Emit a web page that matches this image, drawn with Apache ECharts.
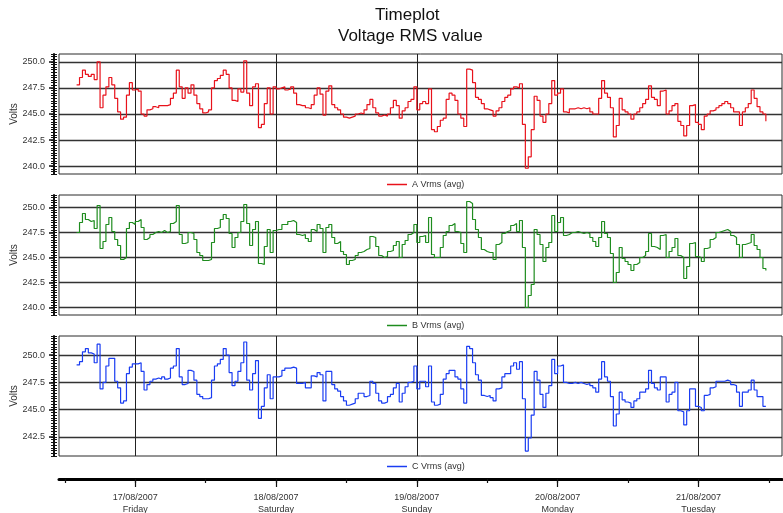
<!DOCTYPE html>
<html>
<head>
<meta charset="utf-8">
<title>Timeplot - Voltage RMS value</title>
<script src="https://cdn.jsdelivr.net/npm/echarts@6.0.0/dist/echarts.min.js"></script>
<style>
	html, body { margin: 0; padding: 0; background: #fff; }
	#timeplot { width: 783px; height: 513px; }
</style>
</head>
<body>
<div id="timeplot"></div>
<script>
// half-hourly averages, the first one taken on 16/08/2007 at 14:00
var startHour = 14;   // hours after 16/08/2007 00:00
var stepHours = 0.5;

var voltsA = [
	247.8, 248.5, 249.2, 248.8, 248.6, 248.8, 248.3, 250.0, 245.6, 246.8,
	247.6, 248.5, 247.8, 246.5, 245.2, 244.5, 244.7, 246.8, 248.0, 247.3,
	247.4, 247.2, 245.0, 244.8, 245.4, 245.5, 245.7, 245.6, 245.8, 245.8,
	245.8, 245.9, 246.5, 247.0, 249.2, 247.6, 246.5, 247.5, 247.0, 247.8,
	246.8, 246.0, 245.5, 245.1, 245.2, 245.4, 247.5, 248.2, 248.4, 248.7,
	249.2, 248.8, 247.5, 246.3, 246.2, 247.4, 247.1, 250.1, 247.0, 245.8,
	247.6, 247.9, 243.7, 244.0, 246.0, 247.5, 245.0, 247.6, 247.4, 247.5,
	247.6, 247.3, 247.4, 247.6, 247.0, 245.9, 245.8, 245.8, 245.6, 245.5,
	245.9, 246.8, 247.5, 246.9, 244.9, 247.2, 247.7, 245.9, 245.6, 245.4,
	245.0, 244.7, 244.6, 244.7, 244.8, 245.0, 245.1, 245.0, 245.4, 245.9,
	246.4, 245.6, 245.1, 244.8, 244.9, 244.8, 245.0, 245.6, 246.3, 245.8,
	244.6, 245.3, 245.6, 246.2, 246.4, 247.6, 245.4, 246.0, 246.2, 246.0,
	247.4, 243.5, 243.3, 243.8, 244.4, 244.6, 246.4, 247.0, 246.8, 246.3,
	245.0, 244.6, 243.8, 249.3, 249.2, 248.0, 246.6, 246.4, 246.0, 245.5,
	245.4, 245.3, 244.8, 245.3, 245.6, 246.2, 246.6, 246.8, 247.4, 247.6,
	247.5, 247.9, 244.0, 239.8, 240.9, 243.5, 246.7, 246.3, 244.8, 244.2,
	245.0, 246.0, 248.2, 246.8, 247.0, 247.4, 245.2, 245.1, 245.5, 245.5,
	245.6, 245.5, 245.6, 245.5, 245.6, 245.2, 245.0, 245.0, 246.5, 248.2,
	247.0, 246.6, 245.6, 242.8, 243.9, 246.5, 245.4, 245.2, 245.0, 244.5,
	245.0, 245.2, 245.6, 246.0, 246.4, 247.7, 246.6, 246.4, 245.8, 247.2,
	247.3, 245.0, 245.3, 245.8, 246.0, 244.3, 243.9, 242.9, 243.9, 245.8,
	245.9, 244.2, 244.0, 243.5, 244.8, 245.0, 245.3, 245.4, 245.6, 245.8,
	246.0, 246.2, 246.0, 245.6, 245.2, 245.2, 243.9, 245.2, 245.6, 246.0,
	247.3, 246.5, 245.7, 245.2, 245.0, 244.3
];

var voltsB = [
	247.5, 248.5, 249.4, 248.8, 248.6, 248.7, 247.9, 250.2, 245.9, 246.6,
	248.3, 249.0, 247.6, 246.8, 246.2, 244.8, 245.0, 247.9, 248.5, 248.3,
	248.6, 248.8, 248.0, 246.8, 247.0, 247.3, 247.5, 247.6, 247.5, 247.7,
	247.5, 247.6, 248.4, 248.6, 250.2, 247.3, 246.4, 246.5, 247.5, 247.4,
	246.8, 245.5, 245.2, 244.7, 244.7, 244.8, 246.5, 247.9, 248.0, 248.8,
	249.3, 248.9, 247.4, 246.0, 247.0, 247.5, 248.6, 250.3, 248.4, 246.2,
	247.8, 248.6, 244.4, 244.3, 246.1, 247.8, 245.5, 247.7, 247.8, 247.8,
	248.3, 248.3, 248.6, 248.7, 248.5, 247.3, 247.2, 247.3, 246.9, 246.6,
	247.8, 247.6, 248.3, 247.9, 245.5, 248.0, 248.3, 247.0, 246.4, 246.6,
	245.6, 245.3, 244.3, 244.7, 244.8, 245.2, 245.5, 245.6, 245.8, 245.9,
	247.1, 247.0, 246.1, 245.2, 245.0, 245.1, 245.6, 245.7, 246.2, 246.6,
	245.0, 246.3, 246.7, 247.3, 247.5, 248.3, 246.5, 247.1, 247.2, 246.5,
	249.0, 245.3, 245.0, 245.0, 246.0, 247.2, 247.6, 248.2, 248.4, 247.6,
	247.5, 246.4, 245.5, 250.6, 250.4, 248.8, 247.8, 247.0, 245.8, 245.6,
	245.5, 245.5, 244.8, 246.3, 246.5, 247.4, 247.6, 247.7, 248.2, 248.4,
	247.6, 248.7, 246.0, 240.0, 241.2, 242.3, 247.8, 247.3, 246.3, 244.6,
	246.0, 246.5, 249.2, 247.6, 248.5, 249.0, 247.2, 247.3, 247.5, 247.5,
	247.6, 247.5, 247.4, 247.5, 247.4, 247.0, 246.6, 246.1, 247.0, 248.6,
	247.4, 247.0, 245.4, 242.5, 243.5, 246.0, 244.9, 244.6, 244.3, 243.7,
	244.3, 244.5, 245.0, 245.2, 245.6, 247.4, 246.1, 246.0, 245.8, 247.2,
	247.3, 245.0, 245.6, 246.0, 246.9, 245.2, 245.0, 242.9, 244.1, 246.4,
	246.5, 245.1, 245.0, 244.6, 245.9, 246.0, 246.8, 247.0, 247.5, 247.6,
	247.7, 247.8, 247.6, 247.2, 247.0, 246.3, 245.0, 246.3, 246.4, 246.5,
	247.3, 246.2, 245.8, 245.0, 243.9, 243.7
];

var voltsC = [
	249.1, 249.4, 250.3, 250.6, 250.2, 250.1, 249.3, 251.0, 246.9, 247.5,
	249.0, 249.7, 249.7, 247.6, 247.0, 245.6, 245.8, 248.3, 248.9, 249.2,
	249.2, 249.3, 248.5, 246.8, 247.3, 247.6, 247.8, 247.9, 247.8, 248.0,
	247.8, 247.9, 248.8, 249.0, 250.6, 248.0, 247.3, 247.4, 248.6, 248.5,
	247.7, 246.4, 246.2, 246.0, 246.0, 246.1, 247.7, 249.0, 249.2, 249.6,
	250.6, 250.0, 248.4, 247.2, 247.6, 248.5, 249.3, 251.2, 247.7, 246.8,
	248.3, 249.5, 244.2, 245.3, 247.0, 248.2, 246.0, 248.0, 248.0, 248.1,
	248.6, 248.8, 248.8, 248.9, 248.8, 247.4, 247.4, 247.5, 247.0, 247.0,
	248.1, 248.0, 248.4, 248.2, 245.8, 248.5, 248.5, 247.3, 246.9, 246.7,
	246.2, 245.8, 245.4, 245.5, 245.6, 246.0, 246.5, 246.5, 246.2, 246.3,
	247.6, 247.4, 246.5, 245.8, 245.6, 245.7, 246.2, 246.4, 247.0, 247.4,
	245.7, 246.5, 247.1, 247.5, 247.6, 249.0, 246.9, 247.6, 247.6, 247.1,
	249.0, 245.7, 245.4, 245.5, 246.4, 247.8, 248.3, 248.6, 248.6, 248.0,
	247.8, 246.9, 245.6, 250.8, 250.6, 249.3, 248.2, 247.7, 246.3, 246.2,
	246.3, 246.1, 245.8, 246.9, 247.0, 248.0, 248.3, 248.3, 249.0, 249.3,
	248.7, 249.4, 246.0, 241.2, 242.4, 244.5, 248.5, 247.7, 246.4, 245.2,
	246.5, 247.2, 249.6, 248.3, 249.0, 249.1, 247.5, 247.4, 247.4, 247.5,
	247.4, 247.5, 247.4, 247.3, 247.4, 247.2, 247.0, 246.6, 247.8, 249.4,
	248.0, 247.6, 246.2, 243.5, 244.6, 246.6, 245.9, 245.7, 245.6, 245.2,
	245.8, 246.0, 246.6, 246.6, 246.9, 248.6, 247.4, 247.0, 246.8, 248.0,
	248.0, 245.7, 246.4, 246.6, 247.5, 244.9, 244.8, 243.6, 244.9, 246.9,
	246.9, 245.3, 245.2, 244.9, 246.3, 246.4, 247.0, 247.1, 247.6, 247.6,
	247.6, 247.7, 247.6, 247.3, 247.2, 246.6, 245.3, 246.6, 246.6, 246.8,
	247.7, 246.8, 246.2, 246.2, 245.3, 245.3
];

// time axis (hours after 16/08/2007 00:00)
var dayHours = [ 24, 48, 72, 96, 120 ];
var halfDayHours = [ 12, 24, 36, 48, 60, 72, 84, 96, 108, 120, 132 ];
var dayDates = [ '17/08/2007', '18/08/2007', '19/08/2007', '20/08/2007', '21/08/2007' ];
var dayNames = [ 'Friday', 'Saturday', 'Sunday', 'Monday', 'Tuesday' ];
var voltTicks = [ 240, 242.5, 245, 247.5, 250 ];

( function ( echarts ) {
	var font = 'Liberation Sans, Arial, sans-serif';
	var hourMin = 11;
	var hourMax = 134.25;
	var plotLeft = 59;
	var plotWidth = 723;
	var plotHeight = 120;

	var panels = [
		{ name: 'A Vrms (avg)', values: voltsA, color: '#e8121b', top: 54, min: 239.25, max: 250.75, legendTop: 180 },
		{ name: 'B Vrms (avg)', values: voltsB, color: '#1e8c1e', top: 195, min: 239.25, max: 251.25, legendTop: 321 },
		{ name: 'C Vrms (avg)', values: voltsC, color: '#1a3df2', top: 336, min: 240.75, max: 251.75, legendTop: 462 }
	];

	function pairs( values ) {
		var out = [];
		for ( var k = 0; k < values.length; k++ ) {
			out.push( [ startHour + k * stepHours, values[k] ] );
		}
		return out;
	}

	var grids = [], xAxes = [], yAxes = [], legends = [], series = [];

	panels.forEach( function ( p, i ) {
		grids.push( {
			left: plotLeft, top: p.top, width: plotWidth, height: plotHeight,
			outerBoundsMode: 'none', containLabel: false,
			show: true, borderColor: '#2a2a2a', borderWidth: 1, backgroundColor: 'transparent'
		} );

		xAxes.push( {
			type: 'value', gridIndex: i, min: hourMin, max: hourMax,
			axisLine: { show: false },
			axisTick: { show: false, customValues: dayHours },
			axisLabel: { show: false },
			splitLine: { show: true, lineStyle: { color: '#222', width: 1 } }
		} );

		var ticks = voltTicks.filter( function ( v ) { return v >= p.min && v <= p.max; } );

		// labelled axis with the horizontal grid lines
		yAxes.push( {
			type: 'value', gridIndex: i, position: 'left', offset: 5,
			min: p.min, max: p.max,
			name: 'Volts', nameLocation: 'middle', nameGap: 35, nameMoveOverlap: false,
			nameTextStyle: { fontSize: 10, color: '#333', fontFamily: font },
			axisLine: { show: true, onZero: false, lineStyle: { color: '#111', width: 2 } },
			axisTick: { show: true, length: 5, customValues: ticks, lineStyle: { color: '#111', width: 1.5 } },
			axisLabel: {
				customValues: ticks, margin: 9, fontSize: 9, color: '#333', fontFamily: font,
				formatter: function ( v ) { return v.toFixed( 1 ); }
			},
			splitLine: { show: true, lineStyle: { color: '#333', width: 1.4 } }
		} );
		// small ticks every 0.25 V, on both sides of the axis line
		[ false, true ].forEach( function ( inside ) {
			yAxes.push( {
				type: 'value', gridIndex: i, position: 'left', offset: 5,
				min: p.min, max: p.max, interval: 0.25,
				axisLine: { show: false },
				axisTick: { show: true, inside: inside, length: 3, lineStyle: { color: '#111', width: 1 } },
				axisLabel: { show: false },
				splitLine: { show: false }
			} );
		} );

		legends.push( {
			data: [ p.name ], left: 387, top: p.legendTop, padding: 0,
			icon: 'rect', itemWidth: 20, itemHeight: 1.5, itemGap: 4,
			textStyle: { fontSize: 9, color: '#333', fontFamily: font }
		} );

		series.push( {
			type: 'line', name: p.name, xAxisIndex: i, yAxisIndex: i * 3,
			data: pairs( p.values ), step: 'end',
			symbol: 'none', showSymbol: false,
			lineStyle: { color: p.color, width: 1.2 },
			itemStyle: { color: p.color }
		} );
	} );

	// shared time axis at the bottom
	grids.push( { left: plotLeft, top: 478, width: plotWidth, height: 1, outerBoundsMode: 'none' } );
	yAxes.push( { type: 'value', gridIndex: 3, show: false } );
	xAxes.push( {
		type: 'value', gridIndex: 3, position: 'bottom', min: hourMin, max: hourMax,
		axisLine: { show: true, onZero: false, lineStyle: { color: '#000', width: 3 } },
		axisTick: { show: true, length: 8, customValues: dayHours, lineStyle: { color: '#111', width: 1.2 } },
		axisLabel: {
			customValues: dayHours, margin: 13, fontSize: 9, lineHeight: 12, color: '#333', fontFamily: font,
			formatter: function ( v ) {
				var i = dayHours.indexOf( v );
				return i < 0 ? '' : dayDates[i] + '\n' + dayNames[i];
			}
		},
		splitLine: { show: false }
	} );
	xAxes.push( {
		type: 'value', gridIndex: 3, position: 'bottom', min: hourMin, max: hourMax,
		axisLine: { show: false },
		axisTick: { show: true, length: 4, customValues: halfDayHours, lineStyle: { color: '#111', width: 1.2 } },
		axisLabel: { show: false },
		splitLine: { show: false }
	} );

	var chart = echarts.init( document.getElementById( 'timeplot' ) );
	chart.setOption( {
		animation: false,
		backgroundColor: '#fff',
		textStyle: { fontFamily: font },
		title: [
			{ text: 'Timeplot', left: 375, top: 7, padding: 0,
				textStyle: { fontSize: 17, fontWeight: 'normal', color: '#111', fontFamily: font } },
			{ text: 'Voltage RMS value', left: 338, top: 28, padding: 0,
				textStyle: { fontSize: 17, fontWeight: 'normal', color: '#111', fontFamily: font } }
		],
		legend: legends,
		grid: grids,
		xAxis: xAxes,
		yAxis: yAxes,
		series: series
	} );
}( echarts ) );
</script>
</body>
</html>
